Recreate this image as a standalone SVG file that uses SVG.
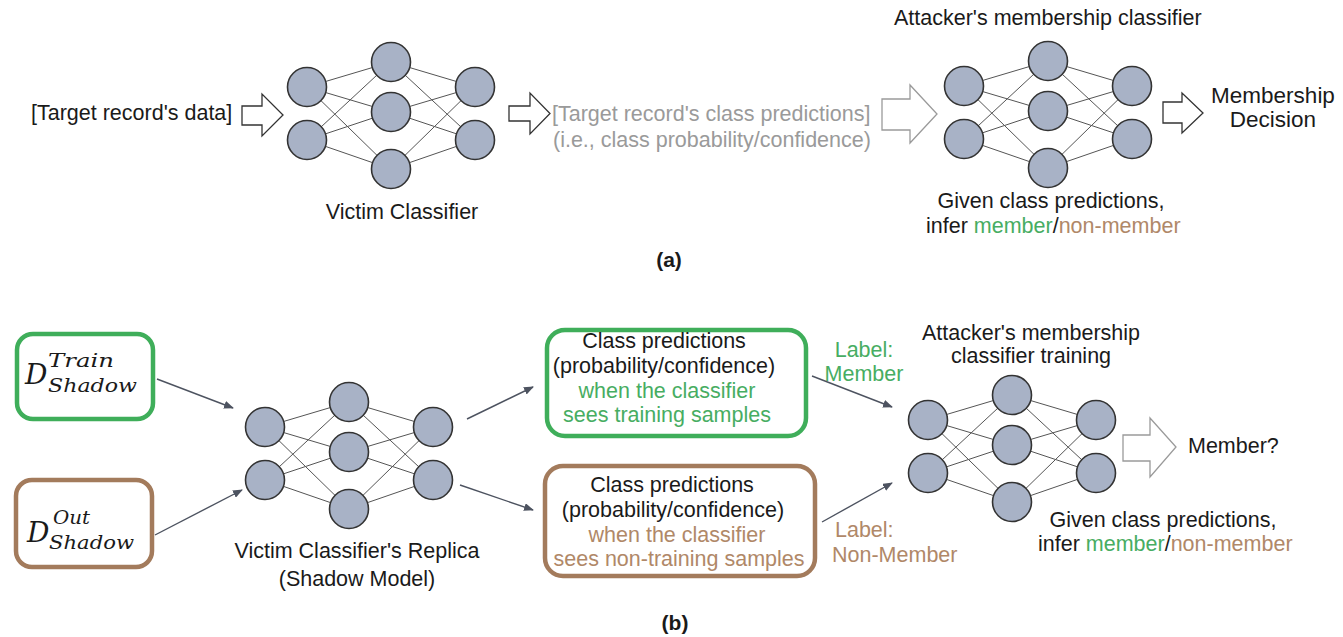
<svg xmlns="http://www.w3.org/2000/svg" width="1343" height="637" viewBox="0 0 1343 637">
<style>
text{font-family:"Liberation Sans",Arial,sans-serif;font-size:21.5px;fill:#1a1a1a}
.gray{fill:#9a9a9a}
.grn{fill:#47ad62}
.brn{fill:#b08868}
.mid{text-anchor:middle}
.bold{font-weight:bold;font-size:21px}
.math{font-family:"DejaVu Serif",serif;font-style:italic}
.nl{stroke:#555;stroke-width:1}
.nd{fill:#a8b2c6;stroke:#333;stroke-width:1.6}
.hol{fill:#fff;stroke:#333;stroke-width:1.3}
.holg{fill:#fff;stroke:#9a9a9a;stroke-width:1.3}
.con{stroke:#4d5360;stroke-width:1.4;fill:none;marker-end:url(#ah)}
.bg{fill:#fff;stroke:#3fae5a;stroke-width:4.5}
.bb{fill:#fff;stroke:#a37b5c;stroke-width:4.5}
</style>
<defs>
<marker id="ah" viewBox="0 0 10 8" refX="9" refY="4" markerWidth="10" markerHeight="8" markerUnits="userSpaceOnUse" orient="auto">
<path d="M0,0 L10,4 L0,8 Z" fill="#4d5360"/>
</marker>
</defs>
<rect width="1343" height="637" fill="#fff"/>

<!-- (a) -->
<g id="a-input">
<text x="31" y="120">[Target record's data]</text>
</g>
<g id="a-arrow1"><polygon class="hol" points="242,106 262,106 262,94 283,115 262,136 262,125 242,125"/></g>
<g id="a-victim" transform="translate(307,87)">
<g class="nl">
<line x1="0" y1="0" x2="84" y2="-25"/><line x1="0" y1="0" x2="84" y2="25"/><line x1="0" y1="0" x2="84" y2="82"/>
<line x1="0" y1="53" x2="84" y2="-25"/><line x1="0" y1="53" x2="84" y2="25"/><line x1="0" y1="53" x2="84" y2="82"/>
<line x1="84" y1="-25" x2="168" y2="0"/><line x1="84" y1="-25" x2="168" y2="53"/>
<line x1="84" y1="25" x2="168" y2="0"/><line x1="84" y1="25" x2="168" y2="53"/>
<line x1="84" y1="82" x2="168" y2="0"/><line x1="84" y1="82" x2="168" y2="53"/>
</g>
<circle class="nd" cx="0" cy="0" r="19.5"/><circle class="nd" cx="0" cy="53" r="19.5"/>
<circle class="nd" cx="84" cy="-25" r="19.5"/><circle class="nd" cx="84" cy="25" r="19.5"/><circle class="nd" cx="84" cy="82" r="19.5"/>
<circle class="nd" cx="168" cy="0" r="19.5"/><circle class="nd" cx="168" cy="53" r="19.5"/>
</g>
<g id="a-victim-label"><text class="mid" x="402" y="219">Victim Classifier</text></g>
<g id="a-arrow2"><polygon class="hol" points="509,106 530,106 530,93 550,113.5 530,134 530,121 509,121"/></g>
<g id="a-predictions">
<text class="gray" x="552" y="121">[Target record's class predictions]</text>
<text class="gray" x="553" y="147">(i.e., class probability/confidence)</text>
</g>
<g id="a-arrow3"><polygon class="holg" points="882,99 910,99 910,85 937,114 910,143 910,130 882,130"/></g>
<g id="a-attacker-title"><text x="894" y="25">Attacker's membership classifier</text></g>
<g id="a-attacker" transform="translate(964,86)">
<g class="nl">
<line x1="0" y1="0" x2="84" y2="-25"/><line x1="0" y1="0" x2="84" y2="25"/><line x1="0" y1="0" x2="84" y2="82"/>
<line x1="0" y1="53" x2="84" y2="-25"/><line x1="0" y1="53" x2="84" y2="25"/><line x1="0" y1="53" x2="84" y2="82"/>
<line x1="84" y1="-25" x2="168" y2="0"/><line x1="84" y1="-25" x2="168" y2="53"/>
<line x1="84" y1="25" x2="168" y2="0"/><line x1="84" y1="25" x2="168" y2="53"/>
<line x1="84" y1="82" x2="168" y2="0"/><line x1="84" y1="82" x2="168" y2="53"/>
</g>
<circle class="nd" cx="0" cy="0" r="19.5"/><circle class="nd" cx="0" cy="53" r="19.5"/>
<circle class="nd" cx="84" cy="-25" r="19.5"/><circle class="nd" cx="84" cy="25" r="19.5"/><circle class="nd" cx="84" cy="82" r="19.5"/>
<circle class="nd" cx="168" cy="0" r="19.5"/><circle class="nd" cx="168" cy="53" r="19.5"/>
</g>
<g id="a-attacker-caption">
<text class="mid" x="1051" y="208">Given class predictions,</text>
<text x="926" y="233">infer <tspan class="grn">member</tspan>/<tspan class="brn">non-member</tspan></text>
</g>
<g id="a-arrow4"><polygon class="hol" points="1163,102 1182,102 1182,93 1203,113 1182,133 1182,123 1163,123"/></g>
<g id="a-decision">
<text class="mid" x="1273" y="103" style="font-size:22.5px">Membership</text>
<text class="mid" x="1273" y="127" style="font-size:22.5px">Decision</text>
</g>
<g id="label-a"><text class="mid bold" x="669" y="267">(a)</text></g>

<!-- (b) -->
<g id="b-train">
<rect class="bg" x="17" y="334" width="136" height="85" rx="16"/>
<text class="math" style="font-size:28px"><tspan x="25" y="384">D</tspan><tspan x="48" y="367" style="font-size:19px" textLength="66" lengthAdjust="spacingAndGlyphs">Train</tspan><tspan x="48" y="392" style="font-size:19px" textLength="89" lengthAdjust="spacingAndGlyphs">Shadow</tspan></text>
</g>
<g id="b-out">
<rect class="bb" x="16" y="480" width="136" height="87" rx="16"/>
<text class="math" style="font-size:28px"><tspan x="27" y="542">D</tspan><tspan x="53" y="524" style="font-size:19px" textLength="37" lengthAdjust="spacingAndGlyphs">Out</tspan><tspan x="49" y="549" style="font-size:19px" textLength="85" lengthAdjust="spacingAndGlyphs">Shadow</tspan></text>
</g>
<g id="b-shadow" transform="translate(265,427)">
<g class="nl">
<line x1="0" y1="0" x2="84" y2="-25"/><line x1="0" y1="0" x2="84" y2="25"/><line x1="0" y1="0" x2="84" y2="82"/>
<line x1="0" y1="53" x2="84" y2="-25"/><line x1="0" y1="53" x2="84" y2="25"/><line x1="0" y1="53" x2="84" y2="82"/>
<line x1="84" y1="-25" x2="168" y2="0"/><line x1="84" y1="-25" x2="168" y2="53"/>
<line x1="84" y1="25" x2="168" y2="0"/><line x1="84" y1="25" x2="168" y2="53"/>
<line x1="84" y1="82" x2="168" y2="0"/><line x1="84" y1="82" x2="168" y2="53"/>
</g>
<circle class="nd" cx="0" cy="0" r="19.5"/><circle class="nd" cx="0" cy="53" r="19.5"/>
<circle class="nd" cx="84" cy="-25" r="19.5"/><circle class="nd" cx="84" cy="25" r="19.5"/><circle class="nd" cx="84" cy="82" r="19.5"/>
<circle class="nd" cx="168" cy="0" r="19.5"/><circle class="nd" cx="168" cy="53" r="19.5"/>
</g>
<g id="b-shadow-label">
<text class="mid" x="357" y="558">Victim Classifier's Replica</text>
<text class="mid" x="357" y="586">(Shadow Model)</text>
</g>
<g id="b-pred-member">
<rect class="bg" x="547" y="330" width="259" height="106" rx="18"/>
<text class="mid" x="664" y="348">Class predictions</text>
<text class="mid" x="664" y="373">(probability/confidence)</text>
<text class="mid grn" x="667" y="398">when the classifier</text>
<text class="mid grn" x="667" y="422">sees training samples</text>
</g>
<g id="b-pred-nonmember">
<rect class="bb" x="545" y="466" width="270" height="110" rx="18"/>
<text class="mid" x="672" y="492">Class predictions</text>
<text class="mid" x="673" y="517">(probability/confidence)</text>
<text class="mid brn" x="677" y="542">when the classifier</text>
<text class="mid brn" x="679" y="566">sees non-training samples</text>
</g>
<g id="b-label-member">
<text class="mid grn" x="864" y="357">Label:</text>
<text class="mid grn" x="864" y="381">Member</text>
</g>
<g id="b-label-nonmember">
<text class="brn" x="835" y="537">Label:</text>
<text class="brn" x="832" y="562">Non-Member</text>
</g>
<g id="b-attacker-title">
<text class="mid" x="1031" y="340">Attacker's membership</text>
<text class="mid" x="1031" y="363">classifier training</text>
</g>
<g id="b-attacker" transform="translate(928,420)">
<g class="nl">
<line x1="0" y1="0" x2="84" y2="-25"/><line x1="0" y1="0" x2="84" y2="25"/><line x1="0" y1="0" x2="84" y2="82"/>
<line x1="0" y1="53" x2="84" y2="-25"/><line x1="0" y1="53" x2="84" y2="25"/><line x1="0" y1="53" x2="84" y2="82"/>
<line x1="84" y1="-25" x2="168" y2="0"/><line x1="84" y1="-25" x2="168" y2="53"/>
<line x1="84" y1="25" x2="168" y2="0"/><line x1="84" y1="25" x2="168" y2="53"/>
<line x1="84" y1="82" x2="168" y2="0"/><line x1="84" y1="82" x2="168" y2="53"/>
</g>
<circle class="nd" cx="0" cy="0" r="19.5"/><circle class="nd" cx="0" cy="53" r="19.5"/>
<circle class="nd" cx="84" cy="-25" r="19.5"/><circle class="nd" cx="84" cy="25" r="19.5"/><circle class="nd" cx="84" cy="82" r="19.5"/>
<circle class="nd" cx="168" cy="0" r="19.5"/><circle class="nd" cx="168" cy="53" r="19.5"/>
</g>
<g id="b-arrow5"><polygon class="holg" points="1123,435 1150,435 1150,418 1176,447 1150,477 1150,461 1123,461"/></g>
<g id="b-member-q"><text x="1188" y="453">Member?</text></g>
<g id="b-attacker-caption">
<text class="mid" x="1163" y="527">Given class predictions,</text>
<text x="1038" y="551">infer <tspan class="grn">member</tspan>/<tspan class="brn">non-member</tspan></text>
</g>
<g id="label-b"><text class="mid bold" x="675" y="630">(b)</text></g>

<g id="connectors">
<line class="con" x1="157" y1="379" x2="233" y2="408"/>
<line class="con" x1="155" y1="535" x2="242" y2="490"/>
<line class="con" x1="467" y1="419" x2="533" y2="387"/>
<line class="con" x1="460" y1="485" x2="533" y2="510"/>
<line class="con" x1="812" y1="376" x2="892" y2="407"/>
<line class="con" x1="822" y1="522" x2="892" y2="483"/>
</g>
</svg>
